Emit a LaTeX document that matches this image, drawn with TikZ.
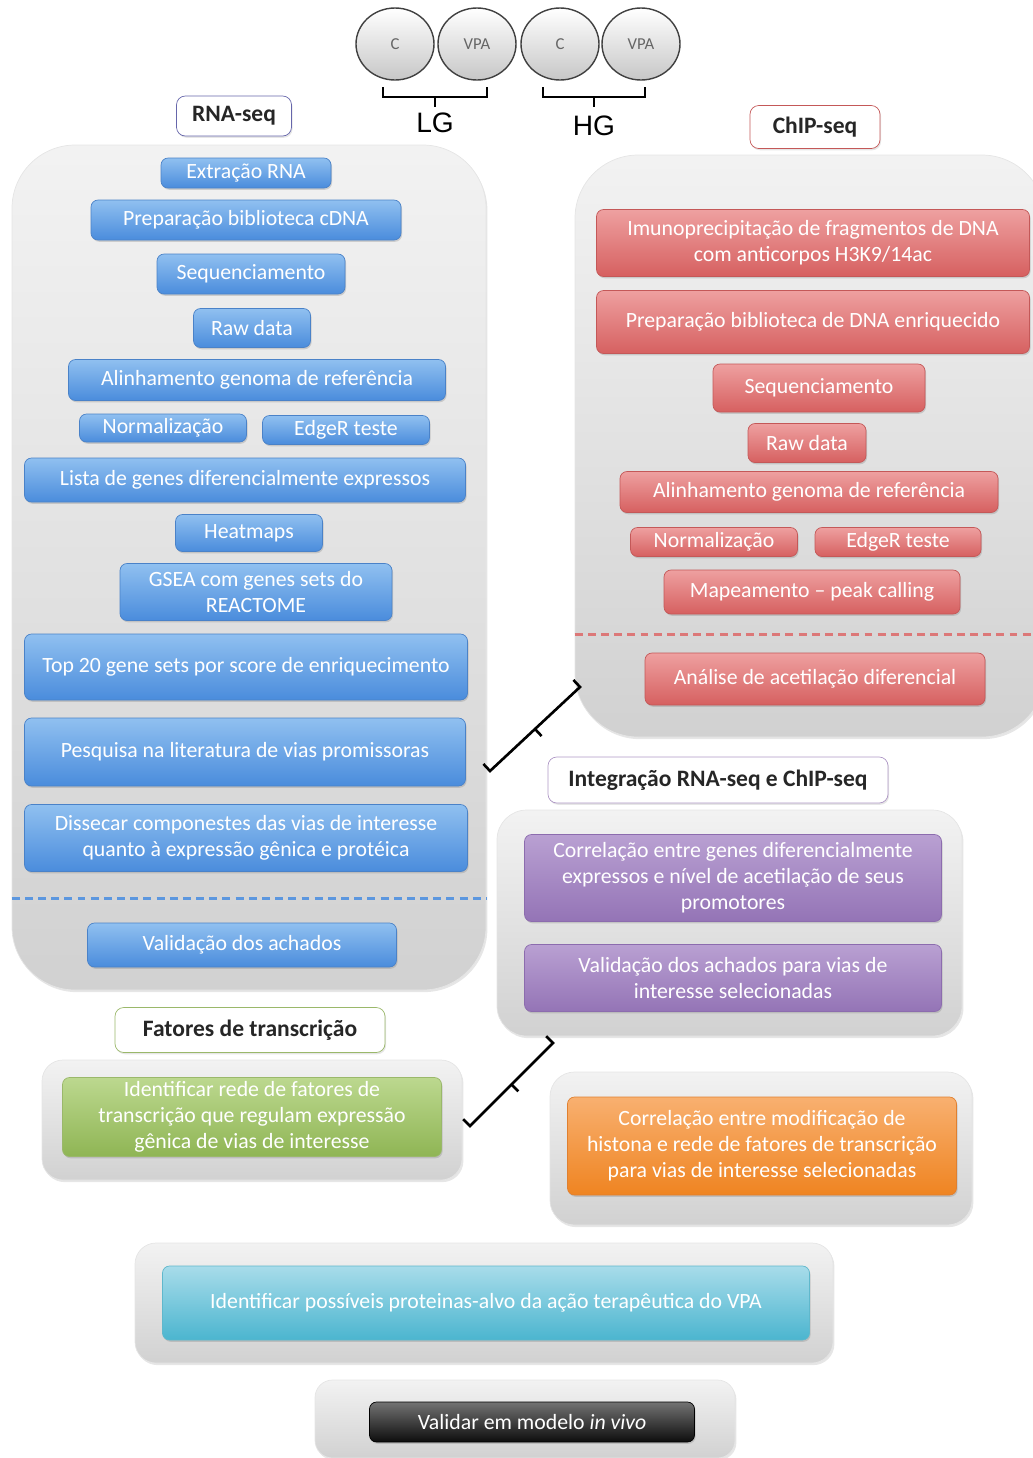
\documentclass[tikz,border=0pt]{standalone}
\usepackage{fontspec}
\setmainfont{Carlito}
\newfontfamily\arialfont{Liberation Sans}
\usetikzlibrary{shapes.geometric,positioning,calc,shadows}
\newlength\px
\setlength\px{0.02cm}
\definecolor{cblueL}{RGB}{144,192,240}
\definecolor{cblue}{RGB}{74,140,220}
\definecolor{cblueD}{RGB}{74,130,200}
\definecolor{credL}{RGB}{238,160,160}
\definecolor{cred}{RGB}{214,96,96}
\definecolor{credD}{RGB}{196,88,88}
\definecolor{cpurL}{RGB}{185,160,210}
\definecolor{cpur}{RGB}{148,116,182}
\definecolor{cpurD}{RGB}{140,108,174}
\definecolor{cgrnL}{RGB}{188,216,143}
\definecolor{cgrn}{RGB}{143,181,84}
\definecolor{cgrnD}{RGB}{154,184,106}
\definecolor{corgL}{RGB}{248,176,112}
\definecolor{corg}{RGB}{239,132,33}
\definecolor{corgD}{RGB}{224,128,48}
\definecolor{ccynL}{RGB}{168,220,234}
\definecolor{ccyn}{RGB}{75,181,207}
\definecolor{ccynD}{RGB}{95,184,204}

\begin{document}
\begin{tikzpicture}[x=0.02cm,y=-0.02cm,font=\fontsize{12.4}{14.8}\selectfont,
  sz/.style 2 args={minimum width=#1\px,minimum height=#2\px},
  panel/.style={draw=black!10,rounded corners=#1,top color=black!5,bottom color=black!18,
    drop shadow={opacity=0.2,shadow xshift=0.8pt,shadow yshift=-1.2pt}},
  panel/.default=36pt,
  stepbox/.style={rounded corners=4pt,text=white,align=center,inner sep=2pt,
    drop shadow={opacity=0.3,shadow xshift=0.6pt,shadow yshift=-1pt}},
  rnabox/.style={stepbox,draw=cblueD,top color=cblueL,bottom color=cblue},
  chipbox/.style={stepbox,draw=credD,top color=credL,bottom color=cred},
  intbox/.style={stepbox,draw=cpurD,top color=cpurL,bottom color=cpur},
  tfbox/.style={stepbox,draw=cgrnD,top color=cgrnL,bottom color=cgrn},
  tag/.style={draw=#1,fill=white,rounded corners=5pt,font=\fontsize{13.4}{15}\selectfont\bfseries,text=black!85,
    drop shadow={opacity=0.2,shadow xshift=0.6pt,shadow yshift=-1pt}},
  grp/.style={ellipse,draw=black!75,thick,top color=white,bottom color=black!22,sz={78}{72},
    font=\fontsize{9.5}{10}\selectfont,text=black!60},
  brk/.style={line width=1.5pt},
  sep/.style={dashed,line width=1.7pt,dash pattern=on 4.5pt off 3pt}]
  \useasboundingbox (0,0) rectangle (1032,1458);

  % groups
  \node[grp] (c1) at (395,44) {C};
  \node[grp] (c2) at (477,44) {VPA};
  \node[grp] (c3) at (560,44) {C};
  \node[grp] (c4) at (641,44) {VPA};
  \node[font=\arialfont\fontsize{16}{18}\selectfont] (lg) at (435,123) {LG};
  \node[font=\arialfont\fontsize{16}{18}\selectfont] (hg) at (594,126) {HG};
  \coordinate (lgL) at (383,87); \coordinate (lgR) at (487,87);
  \coordinate (hgL) at (543,87); \coordinate (hgR) at (645,87);
  \draw[brk] (lgL) -- ++(0,10) -| (lgR);
  \draw[brk] ($(lgL)!0.5!(lgR)+(0,10)$) -- ++(0,10);
  \draw[brk] (hgL) -- ++(0,10) -| (hgR);
  \draw[brk] ($(hgL)!0.5!(hgR)+(0,10)$) -- ++(0,10);

  % panels
  \node[panel,sz={474}{845}] (rnapanel) at (249,567.5) {};
  \node[panel,sz={470}{582}] (chippanel) at (810,446) {};
  \node[panel=17pt,sz={465}{226}] (intpanel) at (729.5,923) {};
  \node[panel=12pt,sz={420}{120}] (tfpanel) at (252,1120) {};
  \node[panel=14pt,sz={422}{153}] (orgpanel) at (761,1148.5) {};
  \node[panel=12pt,sz={698}{120}] (cynpanel) at (484,1303) {};
  \node[panel=10pt,sz={420}{78}] (blkpanel) at (525,1419) {};

  % RNA-seq
  \node[tag=black!55!blue!60,sz={115}{40}] (rnatag) at (234,116) {RNA-seq};
  \node[rnabox,sz={170}{30}] (extr) at (246,173) {Extração RNA};
  \node[rnabox,sz={310}{40}] (prep) at (246,220) {Preparação biblioteca cDNA};
  \node[rnabox,sz={188}{40}] (seq) at (251,274) {Sequenciamento};
  \node[rnabox,sz={117}{39}] (raw) at (252,328) {Raw data};
  \node[rnabox,sz={377}{41}] (alin) at (257,380) {Alinhamento genoma de referência};
  \node[rnabox,sz={167}{28}] (norm) at (163,428) {Normalização};
  \node[rnabox,sz={167}{29}] (edger) at (346,430) {EdgeR teste};
  \node[rnabox,sz={441}{44}] (lista) at (245,480) {Lista de genes diferencialmente expressos};
  \node[rnabox,sz={147}{37}] (heat) at (249,533) {Heatmaps};
  \node[rnabox,sz={272}{57}] (gsea) at (256,592) {GSEA com genes sets do\\REACTOME};
  \node[rnabox,sz={443}{66}] (top) at (246,667) {Top 20 gene sets por score de enriquecimento};
  \node[rnabox,sz={441}{68}] (pesq) at (245,752) {Pesquisa na literatura de vias promissoras};
  \node[rnabox,sz={443}{67}] (diss) at (246,838) {Dissecar componestes das vias de interesse\\quanto à expressão gênica e protéica};
  \node[rnabox,sz={309}{44}] (valid) at (242,945) {Validação dos achados};
  \draw[sep,cblue!90] (rnapanel.west |- 0,898) -- (rnapanel.east |- 0,898);

  % ChIP-seq
  \node[tag=credD,sz={130}{43}] (chiptag) at (815,127) {ChIP-seq};
  \node[chipbox,sz={433}{67}] (imuno) at (813,243) {Imunoprecipitação de fragmentos de DNA\\com anticorpos H3K9/14ac};
  \node[chipbox,sz={433}{63}] (cprep) at (813,322) {Preparação biblioteca de DNA enriquecido};
  \node[chipbox,sz={212}{48}] (cseq) at (819,388) {Sequenciamento};
  \node[chipbox,sz={118}{39}] (craw) at (807,443) {Raw data};
  \node[chipbox,sz={378}{41}] (calin) at (809,492) {Alinhamento genoma de referência};
  \node[chipbox,sz={167}{29}] (cnorm) at (714,542) {Normalização};
  \node[chipbox,sz={166}{29}] (cedger) at (898,542) {EdgeR teste};
  \node[chipbox,sz={296}{44}] (peak) at (812,592) {Mapeamento – peak calling};
  \node[chipbox,sz={340}{52}] (acet) at (815,679) {Análise de acetilação diferencial};
  \draw[sep,cred!85] (chippanel.west |- 0,634) -- (chippanel.east |- 0,634);

  % integracao
  \node[tag=cpurD!70,sz={340}{46}] (inttag) at (718,780) {Integração RNA-seq e ChIP-seq};
  \node[intbox,sz={417}{87}] (corr) at (733,878) {Correlação entre genes diferencialmente\\expressos e nível de acetilação de seus\\promotores};
  \node[intbox,sz={417}{67}] (ivalid) at (733,978) {Validação dos achados para vias de\\interesse selecionadas};

  % fatores de transcricao
  \node[tag=cgrnD,sz={270}{45}] (tftag) at (250,1030) {Fatores de transcrição};
  \node[tfbox,sz={379}{79}] (rede) at (252,1117) {Identificar rede de fatores de\\transcrição que regulam expressão\\gênica de vias de interesse};

  % etapas finais
  \node[stepbox,draw=corgD,top color=corgL,bottom color=corg,sz={389}{98}] (hist) at (762,1146)
    {Correlação entre modificação de\\histona e rede de fatores de transcrição\\para vias de interesse selecionadas};
  \node[stepbox,draw=ccynD,top color=ccynL,bottom color=ccyn,sz={647}{74}] (alvo) at (486,1303)
    {Identificar possíveis proteinas-alvo da ação terapêutica do VPA};
  \node[stepbox,draw=black,top color=black!55,bottom color=black!95,sz={325}{40}] (vivo) at (532,1422)
    {Validar em modelo \textit{in vivo}};

  % brackets
  \coordinate (a1) at (490,771); \coordinate (b1) at (580,687);
  \coordinate (m1) at ($(a1)!0.5!(b1)$);
  \draw[brk] ($(a1)!5.5pt!90:(b1)$) -- (a1) -- (b1) -- ($(b1)!5.5pt!-90:(a1)$);
  \draw[brk] (m1) -- ($(m1)!5.5pt!-90:(b1)$);
  \coordinate (a2) at (470,1126); \coordinate (b2) at (553,1043);
  \coordinate (m2) at ($(a2)!0.5!(b2)$);
  \draw[brk] ($(a2)!5.5pt!90:(b2)$) -- (a2) -- (b2) -- ($(b2)!5.5pt!-90:(a2)$);
  \draw[brk] (m2) -- ($(m2)!5.5pt!-90:(b2)$);
\end{tikzpicture}
\end{document}
